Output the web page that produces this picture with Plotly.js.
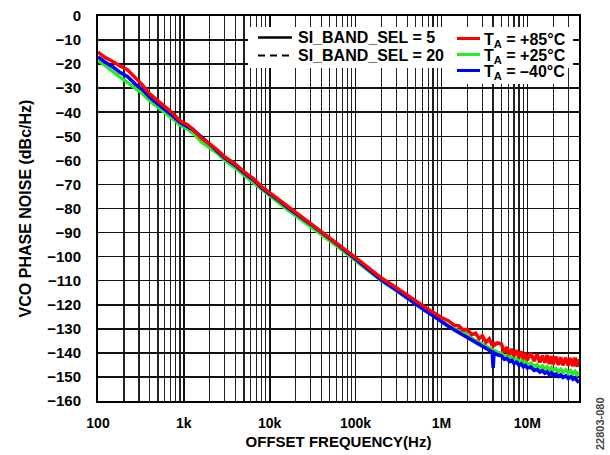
<!DOCTYPE html>
<html>
<head>
<meta charset="utf-8">
<script src="https://cdn.plot.ly/plotly-3.0.1.min.js"></script>
<style>
  html, body { margin: 0; padding: 0; background: #ffffff; }
  #chart { width: 610px; height: 455px; }
</style>
</head>
<body>
<div id="chart"></div>
<script>
// ---------------- DATA ----------------
const freqHz = [
  100,120,150,180,220,270,330,400,500,600,750,900,
  1100,1300,1600,2000,2500,3000,4000,5000,6500,8000,
  1e4,1.3e4,1.6e4,2e4,2.6e4,3.3e4,4e4,5e4,6.5e4,8e4,
  1e5,1.3e5,1.6e5,2e5,2.6e5,3.3e5,4e5,5e5,6.5e5,8e5,
  1e6,1.2e6,1.4e6,1.6e6,1.8e6,2e6,2.25e6,2.5e6,2.75e6,3e6,3.3e6,3.6e6,3.9e6,4e6,4.1e6,4.5e6,
  5e6,5.4e6,5.8e6,6.2e6,6.6e6,7e6,7.5e6,8e6,8.5e6,9e6,9.5e6,1e7,1.1e7,1.2e7,1.3e7,1.4e7,1.5e7,
  1.6e7,1.7e7,1.8e7,1.9e7,2e7,2.15e7,2.3e7,2.45e7,2.6e7,2.8e7,3e7,3.2e7,3.4e7,3.6e7,3.8e7,4e7
];

// T_A = +85°C
const noise85 = [
  -15.0,-17.2,-19.0,-20.8,-22.3,-25.6,-28.7,-32.4,-35.3,-37.6,-40.5,-43.6,
  -45.2,-47.3,-50.8,-53.2,-55.9,-58.6,-61.6,-64.7,-67.7,-70.8,
  -73.4,-76.3,-79.0,-81.4,-84.3,-87.1,-89.4,-91.9,-95.1,-97.7,
  -100.4,-103.6,-106.1,-108.9,-111.5,-114.1,-116.3,-118.3,-121.1,-123.1,
  -125.3,-126.6,-128.5,-128.8,-130.6,-130.2,-132.4,-131.8,-134.1,-132.9,-135.6,-134.2,-137.0,-135.3,-136.9,-135.8,
  -136.4,-139.8,-137.6,-140.9,-138.3,-141.2,-138.9,-142.0,-139.4,-142.5,-140.0,-143.1,-140.2,-143.4,-140.5,-144.0,-141.1,
  -144.1,-140.9,-144.6,-141.4,-144.8,-141.5,-145.0,-141.8,-145.2,-142.0,-145.3,-142.1,-145.6,-142.0,-145.7,-142.6
];

// T_A = +25°C
const noise25 = [
  -18.6,-20.4,-23.2,-25.3,-27.6,-30.1,-32.3,-35.2,-38.1,-40.2,-42.8,-45.3,
  -47.0,-48.9,-52.3,-54.8,-57.3,-60.1,-63.2,-66.1,-69.3,-72.2,
  -75.0,-77.8,-80.5,-82.9,-85.8,-88.5,-90.9,-93.4,-96.5,-99.0,
  -101.7,-104.8,-107.3,-110.1,-112.7,-115.3,-117.6,-119.7,-122.5,-124.5,
  -127.0,-128.6,-129.9,-131.0,-130.4,-132.9,-133.9,-134.8,-135.6,-136.3,-137.1,-137.9,-138.6,-138.9,-139.0,-139.8,
  -140.1,-141.6,-141.0,-142.4,-141.8,-143.1,-142.4,-143.8,-143.0,-144.5,-143.5,-144.8,-144.2,-145.7,-144.9,-146.3,-145.4,
  -146.8,-145.8,-147.1,-146.1,-147.3,-146.5,-147.8,-146.8,-148.1,-147.1,-148.4,-147.4,-148.8,-147.7,-149.0,-147.9
];

// T_A = -40°C
const noiseM40 = [
  -17.0,-19.1,-21.2,-23.4,-25.1,-28.2,-30.6,-33.8,-36.6,-38.7,-41.6,-44.2,
  -45.9,-47.5,-50.2,-53.4,-56.4,-59.1,-62.1,-65.2,-68.2,-71.3,
  -74.0,-76.8,-79.5,-81.9,-84.8,-87.6,-89.9,-92.4,-95.6,-98.2,
  -100.9,-104.2,-106.8,-109.7,-112.4,-115.1,-117.4,-119.6,-122.5,-124.6,
  -127.1,-128.9,-130.4,-131.6,-132.7,-133.6,-134.6,-135.6,-136.5,-137.3,-138.2,-138.9,-139.6,-146.2,-140.0,-140.8,
  -141.2,-142.7,-142.3,-143.6,-143.1,-144.4,-143.9,-145.2,-144.6,-145.8,-145.2,-146.3,-145.9,-147.3,-146.8,-148.0,-147.4,
  -148.5,-147.9,-149.0,-148.3,-149.3,-148.7,-149.8,-149.1,-150.2,-149.5,-150.6,-149.9,-151.0,-150.3,-151.5,-152.4
];

const seriesNames = ["T<sub>A</sub> = +85°C", "T<sub>A</sub> = +25°C", "T<sub>A</sub> = –40°C"];
const modeNames = ["SI_BAND_SEL = 5", "SI_BAND_SEL = 20"];

const xTickVals = [100, 1000, 10000, 100000, 1000000, 10000000];
const xTickText = ["100", "1k", "10k", "100k", "1M", "10M"];
const xMaxHz = 4e7;
const yTickVals = [0,-10,-20,-30,-40,-50,-60,-70,-80,-90,-100,-110,-120,-130,-140,-150,-160];
const yTickText = ["0","−10","−20","−30","−40","−50","−60","−70","−80","−90","−100","−110","−120","−130","−140","−150","−160"];

const xTitle = "OFFSET FREQUENCY(Hz)";
const yTitle = "VCO PHASE NOISE (dBc/Hz)";
const figureId = "22803-080";

// ---------------- LAYOUT HELPERS ----------------
const ML = 98, MR = 31, MT = 16, MB = 54, W = 610, H = 455;
const PW = W - ML - MR, PH = H - MT - MB;
const px2x = p => (p - ML) / PW;
const px2y = p => (H - MB - p) / PH;

const FONT = "'Liberation Sans', Arial, Helvetica, sans-serif";

// minor grid positions (2..9 within each decade)
const minorVals = [];
for (let d = 100; d <= 1e7; d *= 10) {
  for (let k = 2; k <= 9; k++) { if (d * k <= xMaxHz) minorVals.push(d * k); }
}

const colors = { r: "#ff0000", g: "#22ee22", b: "#0000ff" };
const LW = 3.5;

const traces = [
  { x: freqHz, y: noise25, name: seriesNames[1], type: "scatter", mode: "lines",
    line: { color: colors.g, width: LW }, showlegend: false },
  { x: freqHz, y: noiseM40, name: seriesNames[2], type: "scatter", mode: "lines",
    line: { color: colors.b, width: LW }, showlegend: false },
  { x: freqHz, y: noise85, name: seriesNames[0], type: "scatter", mode: "lines",
    line: { color: colors.r, width: LW }, showlegend: false }
];

// legend (drawn as shapes + annotations to match the reference spacing)
const shapes = [
  { type: "rect", xref: "paper", yref: "paper", x0: px2x(248), x1: px2x(573), y0: px2y(68), y1: px2y(27),
    fillcolor: "#ffffff", line: { width: 0 }, layer: "above" },
  { type: "rect", xref: "paper", yref: "paper", x0: px2x(445), x1: px2x(567), y0: px2y(84), y1: px2y(27),
    fillcolor: "#ffffff", line: { width: 0 }, layer: "above" },
  { type: "line", xref: "paper", yref: "paper", x0: px2x(258), x1: px2x(292), y0: px2y(37.5), y1: px2y(37.5),
    line: { color: "#000", width: 2.5 }, layer: "above" },
  { type: "line", xref: "paper", yref: "paper", x0: px2x(258), x1: px2x(292), y0: px2y(55.5), y1: px2y(55.5),
    line: { color: "#000", width: 2, dash: "7px,5px" }, layer: "above" },
  { type: "line", xref: "paper", yref: "paper", x0: px2x(457), x1: px2x(480), y0: px2y(38.5), y1: px2y(38.5),
    line: { color: colors.r, width: 3 }, layer: "above" },
  { type: "line", xref: "paper", yref: "paper", x0: px2x(457), x1: px2x(480), y0: px2y(54.5), y1: px2y(54.5),
    line: { color: colors.g, width: 3 }, layer: "above" },
  { type: "line", xref: "paper", yref: "paper", x0: px2x(457), x1: px2x(480), y0: px2y(70.5), y1: px2y(70.5),
    line: { color: colors.b, width: 3 }, layer: "above" }
];

const legFont = { family: FONT, size: 16, color: "#000", weight: "bold" };
const annotations = [
  { xref: "paper", yref: "paper", x: px2x(296), y: px2y(37.5), text: modeNames[0], showarrow: false,
    xanchor: "left", yanchor: "middle", font: legFont },
  { xref: "paper", yref: "paper", x: px2x(296), y: px2y(55.5), text: modeNames[1], showarrow: false,
    xanchor: "left", yanchor: "middle", font: legFont },
  { xref: "paper", yref: "paper", x: px2x(482), y: px2y(40.5), text: seriesNames[0], showarrow: false,
    xanchor: "left", yanchor: "middle", font: legFont },
  { xref: "paper", yref: "paper", x: px2x(482), y: px2y(56.5), text: seriesNames[1], showarrow: false,
    xanchor: "left", yanchor: "middle", font: legFont },
  { xref: "paper", yref: "paper", x: px2x(482), y: px2y(72.5), text: seriesNames[2], showarrow: false,
    xanchor: "left", yanchor: "middle", font: legFont },
  { xref: "paper", yref: "paper", x: px2x(600), y: px2y(424), text: figureId, showarrow: false,
    textangle: -90, xanchor: "center", yanchor: "middle",
    font: { family: FONT, size: 11, color: "#444" } }
];

const layout = {
  width: W, height: H,
  margin: { l: ML, r: MR, t: MT, b: MB, pad: 0 },
  paper_bgcolor: "#ffffff", plot_bgcolor: "#ffffff",
  font: { family: FONT, size: 14, color: "#000", weight: "bold" },
  showlegend: false,
  xaxis: {
    type: "log",
    range: [Math.log10(xTickVals[0]), Math.log10(xMaxHz)],
    tickmode: "array", tickvals: xTickVals, ticktext: xTickText,
    ticks: "", ticklabelstandoff: 8,
    tickfont: { family: FONT, size: 14, weight: "bold" },
    showgrid: true, gridcolor: "#111", gridwidth: 1.6,
    minor: { tickmode: "array", tickvals: minorVals, showgrid: true, gridcolor: "#222", gridwidth: 1.3, ticks: "" },
    showline: true, mirror: true, linecolor: "#000", linewidth: 2,
    zeroline: false, fixedrange: true,
    title: { text: xTitle, font: { family: FONT, size: 15, weight: "bold" }, standoff: 7 }
  },
  yaxis: {
    range: [-160, 0],
    tickmode: "array", tickvals: yTickVals, ticktext: yTickText,
    ticks: "", ticklabelstandoff: 12,
    tickfont: { family: FONT, size: 15, weight: "bold" },
    showgrid: true, gridcolor: "#111", gridwidth: 1.6,
    showline: true, mirror: true, linecolor: "#000", linewidth: 2,
    zeroline: false, fixedrange: true,
    title: { text: yTitle, font: { family: FONT, size: 16, weight: "bold" }, standoff: 12 }
  },
  shapes: shapes,
  annotations: annotations
};

Plotly.newPlot("chart", traces, layout, { displayModeBar: false, staticPlot: true });
</script>
</body>
</html>
